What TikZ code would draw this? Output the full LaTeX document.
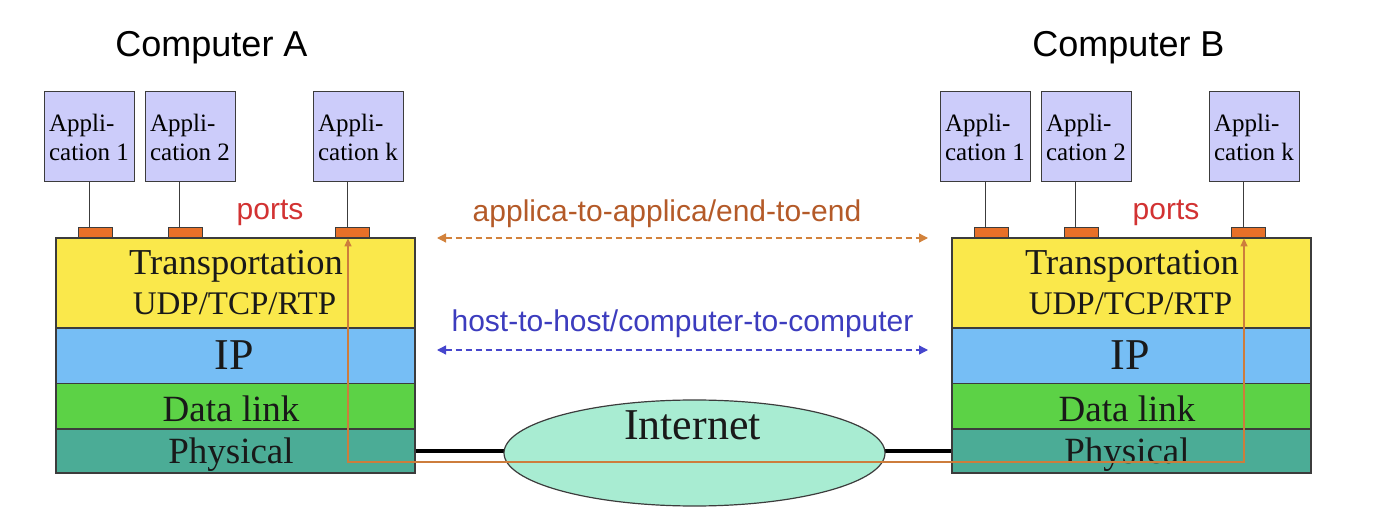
\documentclass[tikz,border=0pt]{standalone}
\usepackage{fontspec}
\setmainfont{Liberation Serif}
\newfontfamily\sansf{Liberation Sans}
\usetikzlibrary{arrows.meta,shapes.geometric}
\definecolor{appcol}{RGB}{204,204,250}
\definecolor{portcol}{RGB}{232,112,40}
\definecolor{trcol}{RGB}{250,232,75}
\definecolor{ipcol}{RGB}{118,190,245}
\definecolor{dlcol}{RGB}{92,210,70}
\definecolor{phcol}{RGB}{75,172,150}
\definecolor{netcol}{RGB}{168,236,210}
\definecolor{edgecol}{RGB}{60,60,60}
\definecolor{endcol}{RGB}{180,90,40}
\definecolor{endarr}{RGB}{210,130,60}
\definecolor{hostcol}{RGB}{60,60,190}
\definecolor{hostarr}{RGB}{70,70,205}
\definecolor{portlbl}{RGB}{210,50,50}
\definecolor{pathcol}{RGB}{205,125,60}
\begin{document}
\begin{tikzpicture}[x=1pt,y=-1pt,
  appbox/.style={draw=edgecol, line width=1pt, fill=appcol, minimum width=90pt,
    minimum height=90pt, inner xsep=3pt, inner ysep=0pt,
    align=left, font=\fontsize{25}{29}\selectfont},
  portbox/.style={draw=edgecol, line width=0.8pt, fill=portcol, minimum width=34pt,
    minimum height=11pt, inner sep=0pt},
  layer/.style={draw=edgecol, line width=1.2pt, minimum width=359pt, inner sep=0pt},
  stem/.style={draw=edgecol, line width=1pt},
  ltext/.style={anchor=base, text=black!90, inner sep=0pt},
  sanslbl/.style={anchor=base, inner sep=0pt, font=\sansf\fontsize{30}{30}\selectfont},
]
\useasboundingbox (0,0) rectangle (1374,526);

\newcommand\drawhost[2]{%
\begin{scope}[xshift=#2pt]
  \node[appbox] (a1#1) at (89,137) {Appli-\\cation 1};
  \node[appbox] (a2#1) at (190,137) {Appli-\\cation 2};
  \node[appbox] (ak#1) at (358,137) {Appli-\\cation k};
  \node[portbox] (p1#1) at (95,232.5) {};
  \node[portbox] (p2#1) at (185,232.5) {};
  \node[portbox] (pk#1) at (352.5,232.5) {};
  \draw[stem] (a1#1.south) -- (a1#1.south |- p1#1.north);
  \draw[stem] ([xshift=-11pt]a2#1.south) -- ([xshift=-11pt]a2#1.south |- p2#1.north);
  \draw[stem] ([xshift=-11pt]ak#1.south) -- ([xshift=-11pt]ak#1.south |- pk#1.north);
  \node[layer, fill=trcol, minimum height=90pt] (tr#1) at (235.5,283) {};
  \node[layer, fill=ipcol, minimum height=55.5pt] (ip#1) at (235.5,355.75) {};
  \node[layer, fill=dlcol, minimum height=45.5pt] (dl#1) at (235.5,406.25) {};
  \node[layer, fill=phcol, minimum height=44pt] (ph#1) at (235.5,451) {};
  \node[ltext, font=\fontsize{36.5}{36}\selectfont] (ttr#1) at (236,275) {Transportation};
  \node[ltext, font=\fontsize{33}{33}\selectfont] (tud#1) at (234.5,315) {UDP/TCP/RTP};
  \node[ltext, font=\fontsize{44}{44}\selectfont] (tip#1) at (234,370) {IP};
  \node[ltext, font=\fontsize{37}{37}\selectfont] (tdl#1) at (231,421.5) {Data link};
  \node[ltext, font=\fontsize{37}{37}\selectfont] (tph#1) at (231,464) {Physical};
  \node[sanslbl, text=portlbl] (pl#1) at (270,220) {ports};
\end{scope}}

\drawhost{A}{0}
\drawhost{B}{896}

\node[anchor=base, inner sep=0pt, font=\sansf\fontsize{36}{36}\selectfont] (compA) at (211.5,57) {Computer A};
\node[anchor=base, inner sep=0pt, font=\sansf\fontsize{36}{36}\selectfont] (compB) at (1128.5,57) {Computer B};

% physical link and Internet cloud
\draw[line width=3.5pt, black] (phA.east) -- (phB.west);
\node[ellipse, draw=edgecol, line width=1.2pt, fill=netcol, minimum width=381pt,
  minimum height=106pt, inner sep=0pt] (net) at (694.5,453) {};
\node[ltext, font=\fontsize{44}{44}\selectfont] (netl) at (692.5,440) {Internet};

% end-to-end data path
\coordinate (oy) at (0,462);
\draw[pathcol, line width=1.3pt, {Triangle[length=8pt,width=7pt]}-{Triangle[length=8pt,width=7pt]}]
  ([xshift=-4.5pt]pkA.south) -- ([xshift=-4.5pt]pkA.south |- oy)
  -| ([xshift=-4.5pt]pkB.south);

% dashed relations
\coordinate (e1) at (437,238);
\coordinate (e2) at (928,238);
\coordinate (h1) at (437,350);
\coordinate (h2) at (928,350);
\draw[endarr, line width=1.3pt, dash pattern=on 6pt off 4pt,
  {Triangle[length=9pt,width=9pt]}-{Triangle[length=9pt,width=9pt]}] (e1) -- (e2);
\draw[hostarr, line width=1.3pt, dash pattern=on 6pt off 4pt,
  {Triangle[length=9pt,width=9pt]}-{Triangle[length=9pt,width=9pt]}] (h1) -- (h2);
\node[sanslbl, text=endcol] (endl) at (667,222) {applica-to-applica/end-to-end};
\node[sanslbl, text=hostcol] (hostl) at (682.5,332) {host-to-host/computer-to-computer};
\end{tikzpicture}
\end{document}
